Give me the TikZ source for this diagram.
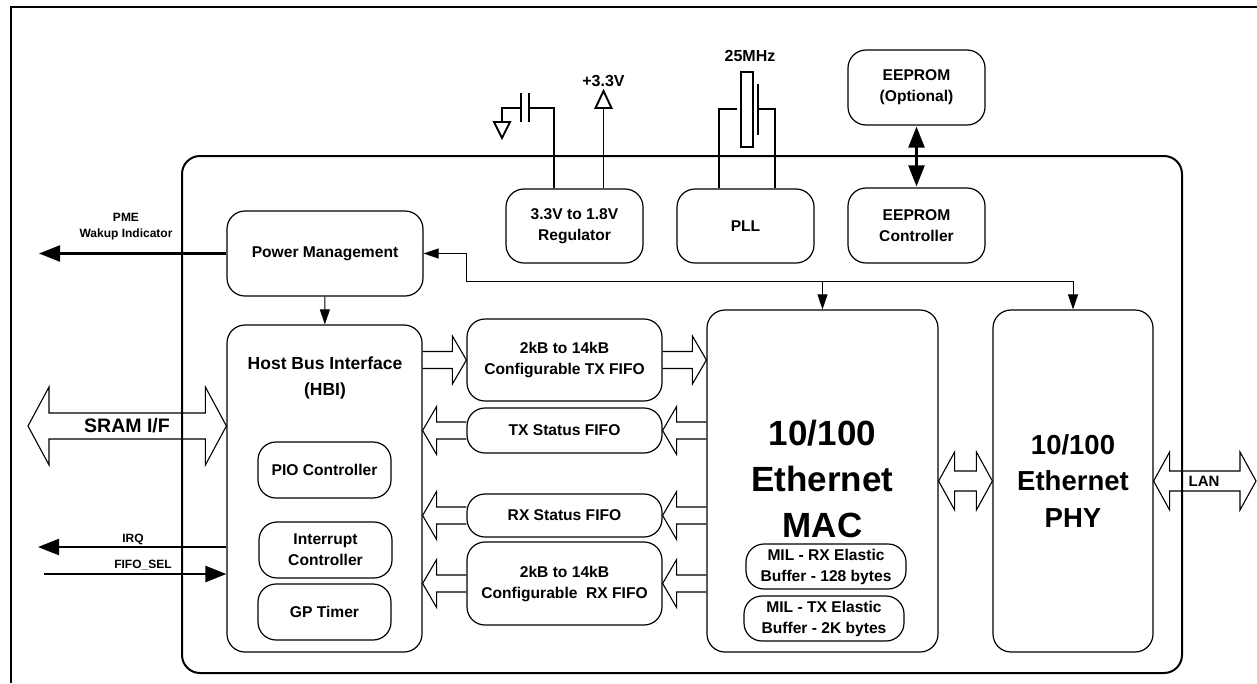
\documentclass[tikz,border=0pt]{standalone}
\usepackage{fontspec}
\setmainfont{Liberation Sans}
\usetikzlibrary{arrows.meta,calc}
\tikzset{
  block/.style={draw,line width=1.2pt,rounded corners=18pt,inner sep=0pt,align=center,
    font=\fontsize{15.6}{21}\selectfont\bfseries},
  caption/.style 2 args={inner sep=0pt,align=center,font=\fontsize{#1}{#2}\selectfont\bfseries},
  wire/.style={line width=1pt,-{Triangle[length=15pt,width=10pt]}},
  heavy/.style={line width=2.4pt,-{Triangle[length=21pt,width=16pt]}},
  pin/.style={line width=1.9pt},
  bus/.style n args={3}{line width=1.1pt,to path={
    let \p1=(\tikztostart),\p2=(\tikztotarget),\n1={sign(\x2-\x1)} in
    (\x1,\y1+#1) -- (\x2-\n1*#3,\y1+#1) -- (\x2-\n1*#3,\y1+#2) -- (\x2,\y1)
    -- (\x2-\n1*#3,\y1-#2) -- (\x2-\n1*#3,\y1-#1) -- (\x1,\y1-#1)}},
  busboth/.style n args={3}{line width=1.1pt,to path={
    let \p1=(\tikztostart),\p2=(\tikztotarget),\n1={sign(\x2-\x1)} in
    (\x1+\n1*#3,\y1+#1) -- (\x2-\n1*#3,\y1+#1) -- (\x2-\n1*#3,\y1+#2) -- (\x2,\y1)
    -- (\x2-\n1*#3,\y1-#2) -- (\x2-\n1*#3,\y1-#1) -- (\x1+\n1*#3,\y1-#1)
    -- (\x1+\n1*#3,\y1-#2) -- (\x1,\y1) -- (\x1+\n1*#3,\y1+#2) -- cycle}},
  fifobus/.style={bus={8.5pt}{24pt}{14pt}},
}
\begin{document}
\begin{tikzpicture}[x=1pt,y=-1pt]
  \useasboundingbox (0,0) rectangle (1257,683);
  \draw[line width=2.2pt] (11,683) -- (11,7) -- (1257,7);
  \node[draw,line width=2pt,rounded corners=18pt,minimum width=1000pt,minimum height=517pt] (chip) at (682,414.5) {};
  % blocks
  \node[block,minimum width=196pt,minimum height=85pt] (power) at (325,253.5) {Power Management};
  \node[block,minimum width=195pt,minimum height=327pt] (hbi) at (324.5,488.5) {};
  \node[caption={17.5}{26}] (hbilabel) at (325,378) {Host Bus Interface\\(HBI)};
  \node[block,minimum width=133pt,minimum height=56pt] (pio) at (324.5,470) {PIO Controller};
  \node[block,minimum width=133pt,minimum height=56pt] (intr) at (325.5,550) {Interrupt\\Controller};
  \node[block,minimum width=133pt,minimum height=56pt] (timer) at (324.5,612) {GP Timer};
  \node[block,minimum width=137pt,minimum height=74pt] (reg) at (574.5,226) {3.3V to 1.8V\\Regulator};
  \node[block,minimum width=137pt,minimum height=74pt] (pll) at (745.5,226) {PLL};
  \node[block,minimum width=137pt,minimum height=75pt] (eectl) at (916.5,225.5) {EEPROM\\Controller};
  \node[block,minimum width=137pt,minimum height=75pt] (eeprom) at (916.5,87.5) {EEPROM\\(Optional)};
  \node[block,minimum width=195pt,minimum height=82pt] (txfifo) at (564.5,360) {2kB to 14kB\\Configurable TX FIFO};
  \node[block,minimum width=195pt,minimum height=45pt] (txstat) at (564.5,430.5) {TX Status FIFO};
  \node[block,minimum width=195pt,minimum height=43pt] (rxstat) at (564.5,515.5) {RX Status FIFO};
  \node[block,minimum width=195pt,minimum height=83pt] (rxfifo) at (564.5,583.5) {2kB to 14kB\\Configurable\ \ RX FIFO};
  \node[block,minimum width=231pt,minimum height=342pt] (mac) at (822.5,481) {};
  \node[caption={35}{46}] (maclabel) at (822.5,479) {10/100\\Ethernet\\MAC};
  \node[block,minimum width=160pt,minimum height=45pt] (rxbuf) at (826,566.5) {MIL - RX Elastic\\Buffer - 128 bytes};
  \node[block,minimum width=160pt,minimum height=45pt] (txbuf) at (824,618.5) {MIL - TX Elastic\\Buffer - 2K bytes};
  \node[block,minimum width=160pt,minimum height=342pt,font=\fontsize{27.5}{36.5}\selectfont\bfseries] (phy) at (1073,481) {10/100\\Ethernet\\PHY};
  % free ends
  \coordinate (pmeend) at (39,253.5);
  \coordinate (sramend) at (28,426);
  \coordinate (irqend) at (38,547);
  \coordinate (selstart) at (44,574);
  \coordinate (lanend) at (1256,481);
  \coordinate (branch) at (466,281);
  % thin control lines
  \draw[wire] (power) -- (hbi);
  \draw[wire] (branch) -- (branch |- power.east) -- (power.east);
  \draw[line width=1pt] (branch) -- (branch -| phy.north);
  \draw[wire] (branch -| mac.north) -- (mac.north);
  \draw[wire] (branch -| phy.north) -- (phy.north);
  % heavy lines
  \draw[heavy] (power.west) -- (pmeend);
  \draw[heavy] (hbi.west |- irqend) -- (irqend);
  \draw[heavy] (selstart) -- (selstart -| hbi.west);
  \draw[heavy,{Triangle[length=21pt,width=16pt]}-{Triangle[length=21pt,width=16pt]},shorten <=1pt,shorten >=1pt] (eeprom) -- (eectl);
  % data paths
  \draw[fifobus] (hbi.east |- txfifo.west) to (txfifo.west);
  \draw[fifobus] (txfifo.east) to (mac.west |- txfifo.east);
  \foreach \fifo in {txstat,rxstat,rxfifo}{
    \draw[fifobus] (\fifo.west) to (hbi.east |- \fifo.west);
    \draw[fifobus] (mac.west |- \fifo.east) to (\fifo.east);
  }
  \draw[busboth={13pt}{39pt}{21pt}] (sramend) to (hbi.west |- sramend);
  \draw[busboth={10pt}{29pt}{16pt}] (mac.east) to (phy.west);
  \draw[busboth={10pt}{29pt}{16pt}] (phy.east) to (lanend);
  % external parts
  \coordinate (vdd) at (603.5,108);
  \coordinate (capin) at (554,108);
  \coordinate (gnd) at (502,122);
  \draw[pin] (vdd |- reg.north) -- (vdd);
  \draw[pin] (vdd) -- ++(-8,0) -- ++(8,-17) -- ++(8,17) -- cycle;
  \draw[pin] (capin |- reg.north) -- (capin) -- (529,108);
  \draw[pin] (529,93) -- (529,122) (521,93) -- (521,122);
  \draw[pin] (521,108) -- (gnd |- capin) -- (gnd);
  \draw[pin] (gnd) -- ++(-8,0) -- ++(8,16) -- ++(8,-16) -- cycle;
  \coordinate (xtalleft) at (719,109);
  \coordinate (xtalright) at (775,109);
  \draw[pin] (xtalleft |- pll.north) -- (xtalleft) -- (737,109);
  \draw[pin] (xtalright |- pll.north) -- (xtalright) -- (758,109);
  \draw[pin] (741,72) rectangle (753,147);
  \draw[pin] (758,84) -- (758,135);
  % texts
  \node[caption={16}{20}] (vddtext) at (603.5,81) {+3.3V};
  \node[caption={16}{20}] (xtaltext) at (750,56) {25MHz};
  \node[caption={12}{16}] (pmetext) at (126,227) {PME\\Wakup Indicator};
  \node[caption={19.5}{24}] (sramtext) at (127,426) {SRAM I/F};
  \node[caption={12}{16}] (irqtext) at (133,539) {IRQ};
  \node[caption={12}{16}] (seltext) at (143,565) {FIFO\_SEL};
  \node[caption={15}{18}] (lantext) at (1204,481) {LAN};
\end{tikzpicture}
\end{document}
